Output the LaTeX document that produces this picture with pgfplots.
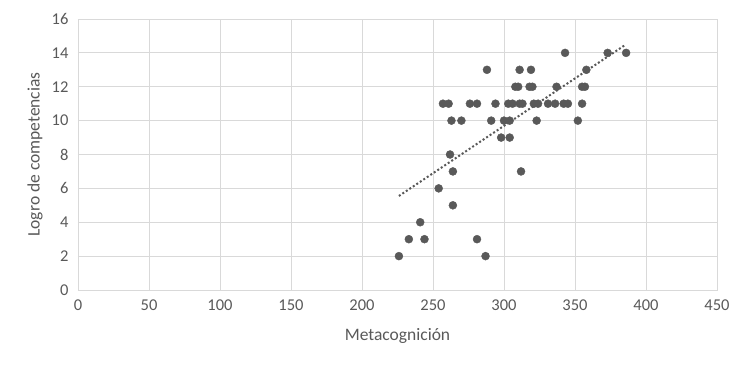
\documentclass[border=0pt]{standalone}
\usepackage{pgfplots}
\pgfplotsset{compat=1.18}
\usepackage{fontspec}
\setmainfont{Carlito}
\definecolor{pt}{HTML}{595959}
\definecolor{gr}{HTML}{D9D9D9}
\definecolor{tx}{HTML}{595959}
\begin{document}
\begin{tikzpicture}
\useasboundingbox (-78pt,-77pt) rectangle (672pt,290pt);
\begin{axis}[
  scale only axis,
  width=639pt, height=271pt,
  xmin=0, xmax=450, ymin=0, ymax=16,
  xtick={0,50,...,450}, ytick={0,2,...,16},
  grid=major,
  grid style={gr, line width=0.9pt},
  axis line style={gr, line width=0.9pt},
  major tick length=0pt,
  tick label style={font=\fontsize{16.5}{18}\selectfont, text=tx},
  /pgf/number format/assume math mode=true,
  xticklabel style={yshift=-6pt},
  yticklabel style={xshift=-6pt},
  xlabel={Metacognición},
  ylabel={Logro de competencias},
  label style={font=\fontsize{17.5}{19}\selectfont, text=tx},
  xlabel style={at={(axis description cs:0.5,0)}, anchor=center, yshift=-46pt},
  ylabel style={at={(axis description cs:0,0.5)}, anchor=center, yshift=43pt},
  clip=false,
]
\addplot[only marks, mark=*, mark size=4pt, mark options={fill=pt, draw=pt}] coordinates {
(226,2) (287,2)
(233,3) (244,3) (281,3)
(241,4)
(264,5)
(254,6)
(264,7) (312,7)
(262,8)
(298,9) (304,9)
(263,10) (270,10) (291,10) (300,10) (304,10) (323,10) (352,10)
(257,11) (261,11) (276,11) (281,11) (294,11) (303,11) (306,11) (311,11) (313,11) (321,11) (324,11) (331,11) (336,11) (342,11) (345,11) (355,11)
(308,12) (310,12) (318,12) (320,12) (337,12) (355,12) (357,12)
(288,13) (311,13) (319,13) (358,13)
(343,14) (373,14) (386,14)
};
\addplot[pt, line width=2pt, dash pattern=on 2pt off 2.2pt] coordinates {(226,5.55) (385,14.45)};
\end{axis}
\end{tikzpicture}
\end{document}
